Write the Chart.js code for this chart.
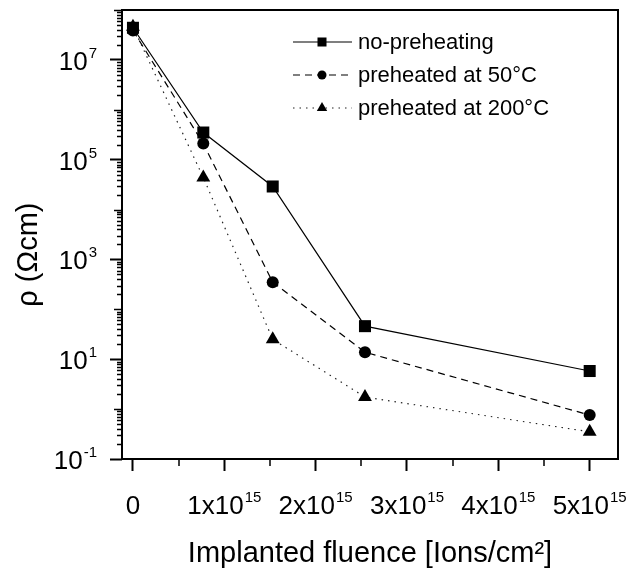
<!DOCTYPE html>
<html>
<head>
<meta charset="utf-8">
<script src="https://cdn.jsdelivr.net/npm/chart.js@4.4.1/dist/chart.umd.min.js"></script>
<style>
    body { margin: 0; background: #fff; }
    #wrap { width: 630px; height: 580px; }
</style>
</head>
<body>
<div id="wrap"><canvas id="rho"></canvas></div>
<script>
// fluence in ions/cm2, resistivity in ohm.cm
var fluence = [0, 0.77e15, 1.53e15, 2.54e15, 5e15];
var rho_no_preheat = [4.4e7, 3.5e5, 2.9e4, 46, 5.8];
var rho_50C = [3.9e7, 2.1e5, 350, 13.8, 0.76];
var rho_200C = [4.6e7, 4.4e4, 25, 1.75, 0.35];

var series_labels = ["no-preheating", "preheated at 50°C", "preheated at 200°C"];

// "^" marks the start of a superscript
var x_tick_values = [0, 1e15, 2e15, 3e15, 4e15, 5e15];
var x_tick_labels = ["0", "1x10^15", "2x10^15", "3x10^15", "4x10^15", "5x10^15"];
var x_minor_ticks = [0.5e15, 1.5e15, 2.5e15, 3.5e15, 4.5e15];

var y_tick_values = [1e-1, 1e1, 1e3, 1e5, 1e7];
var y_tick_labels = ["10^-1", "10^1", "10^3", "10^5", "10^7"];

var FONT = "'Liberation Sans', Arial, sans-serif";

function pts(ys) {
    return fluence.map(function (x, i) { return {x: x, y: ys[i]}; });
}

// draws "base^sup" with its right edge (align 'right') or centre (align 'center') at x
function draw_sup_label(ctx, label, x, baseline, align) {
    var parts = label.split("^");
    ctx.font = "26px " + FONT;
    var wb = ctx.measureText(parts[0]).width;
    var ws = 0;
    if (parts.length > 1) {
        ctx.font = "15px " + FONT;
        ws = ctx.measureText(parts[1]).width + 1;
    }
    var w = wb + ws;
    var x0 = align == "right" ? x - w : x - w / 2;
    ctx.textAlign = "left";
    ctx.textBaseline = "alphabetic";
    ctx.font = "26px " + FONT;
    ctx.fillText(parts[0], x0, baseline);
    if (parts.length > 1) {
        ctx.font = "15px " + FONT;
        ctx.fillText(parts[1], x0 + wb + 1, baseline - 12);
    }
}

// frame, minor ticks, tick labels and the line+marker legend
var extras = {
    id: 'extras',
    afterDatasetsDraw: function (chart) {
        var ctx = chart.ctx;
        var a = chart.chartArea;
        var xs = chart.scales.x, ys = chart.scales.y;
        ctx.save();
        ctx.strokeStyle = "#000";
        ctx.lineWidth = 2;
        ctx.strokeRect(a.left, a.top, a.right - a.left, a.bottom - a.top);

        // minor ticks x
        ctx.beginPath();
        x_minor_ticks.forEach(function (v) {
            var px = Math.round(xs.getPixelForValue(v));
            ctx.moveTo(px, a.bottom);
            ctx.lineTo(px, a.bottom + 7);
        });
        // minor ticks y (log)
        for (var e = -1; e <= 7; e++) {
            for (var m = 1; m <= 9; m++) {
                var v = m * Math.pow(10, e);
                if (m == 1 && y_tick_values.indexOf(v) >= 0) continue;
                var py = Math.round(ys.getPixelForValue(v)) + 0.5;
                var len = (m == 1) ? 8 : 5;
                ctx.moveTo(a.left, py);
                ctx.lineTo(a.left - len, py);
            }
        }
        var ptop = Math.round(ys.getPixelForValue(1e8)) + 0.5;
        ctx.moveTo(a.left, ptop);
        ctx.lineTo(a.left - 8, ptop);
        ctx.lineWidth = 1.5;
        ctx.stroke();

        // tick labels with superscripts
        ctx.fillStyle = "#000";
        x_tick_values.forEach(function (v, i) {
            draw_sup_label(ctx, x_tick_labels[i], xs.getPixelForValue(v), a.bottom + 55, "center");
        });
        y_tick_values.forEach(function (v, i) {
            draw_sup_label(ctx, y_tick_labels[i], a.left - 25, ys.getPixelForValue(v) + 10, "right");
        });

        // legend
        var rows = [42, 75, 108];
        chart.data.datasets.forEach(function (ds, i) {
            var y = rows[i];
            ctx.beginPath();
            ctx.setLineDash(ds.borderDash || []);
            ctx.lineWidth = ds.borderWidth;
            ctx.strokeStyle = ds.borderColor;
            ctx.moveTo(293, y);
            ctx.lineTo(352, y);
            ctx.stroke();
            ctx.setLineDash([]);
            ctx.fillStyle = "#000";
            Chart.helpers.drawPoint(ctx, {pointStyle: ds.pointStyle, radius: ds.pointRadius * 0.75, rotation: 0, borderWidth: 0}, 322, y);
            ctx.font = "22px " + FONT;
            ctx.textAlign = "left";
            ctx.textBaseline = "middle";
            ctx.fillText(ds.label, 358, y + 1);
        });
        ctx.restore();
    }
};

new Chart(document.getElementById("rho"), {
    type: 'line',
    data: {
        datasets: [
            {
                label: series_labels[0],
                data: pts(rho_no_preheat),
                borderColor: "#000",
                backgroundColor: "#000",
                borderWidth: 1.2,
                pointStyle: 'rect',
                pointRadius: 8.5,
                pointBorderWidth: 0
            },
            {
                label: series_labels[1],
                data: pts(rho_50C),
                borderColor: "#000",
                backgroundColor: "#000",
                borderWidth: 1.2,
                borderDash: [7, 5],
                pointStyle: 'circle',
                pointRadius: 6,
                pointBorderWidth: 0
            },
            {
                label: series_labels[2],
                data: pts(rho_200C),
                borderColor: "#222",
                backgroundColor: "#000",
                borderWidth: 1.2,
                borderDash: [1.5, 5],
                pointStyle: 'triangle',
                pointRadius: 8,
                pointBorderWidth: 0
            }
        ]
    },
    options: {
        responsive: true,
        maintainAspectRatio: false,
        animation: false,
        layout: {padding: {left: 0, right: 12, top: 10, bottom: 0}},
        plugins: {legend: {display: false}, tooltip: {enabled: false}},
        scales: {
            x: {
                type: 'linear',
                min: -0.12e15,
                max: 5.31e15,
                afterBuildTicks: function (scale) {
                    scale.ticks = x_tick_values.map(function (v) { return {value: v}; });
                },
                afterFit: function (scale) {
                    scale.height = 121;
                    scale.paddingLeft = 0;
                    scale.paddingRight = 0;
                },
                ticks: {display: false},
                grid: {drawOnChartArea: false, drawTicks: true, tickLength: 12, tickWidth: 2, tickColor: "#000"},
                border: {display: false},
                title: {
                    display: true,
                    text: "Implanted fluence [Ions/cm²]",
                    color: "#000",
                    font: {family: FONT, size: 29},
                    padding: {top: 0, bottom: 9}
                }
            },
            y: {
                type: 'logarithmic',
                min: 1e-1,
                max: 1e8,
                afterBuildTicks: function (scale) {
                    scale.ticks = y_tick_values.map(function (v) { return {value: v}; });
                },
                afterFit: function (scale) {
                    scale.width = 122;
                    scale.paddingTop = 0;
                    scale.paddingBottom = 0;
                },
                ticks: {display: false},
                grid: {drawOnChartArea: false, drawTicks: true, tickLength: 12, tickWidth: 2, tickColor: "#000"},
                border: {display: false},
                title: {
                    display: true,
                    text: "ρ (Ωcm)     ",
                    color: "#000",
                    font: {family: FONT, size: 29},
                    padding: {top: 12, bottom: 0}
                }
            }
        }
    },
    plugins: [extras]
});
</script>
</body>
</html>
